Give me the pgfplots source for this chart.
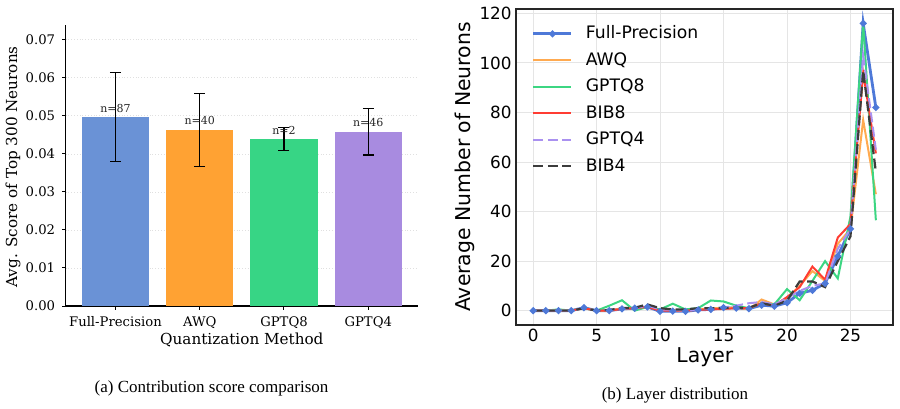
\documentclass[border=0pt]{standalone}
\usepackage{pgfplots}
\pgfplotsset{compat=1.18}
\usepackage{pgfplotstable}
\usepackage{fontspec}
\setmainfont{Liberation Serif}
\newfontfamily\dvserif{DejaVu Serif}
\newfontfamily\dvsans{DejaVu Sans}

\definecolor{barFP}{RGB}{106,146,214}
\definecolor{barAWQ}{RGB}{255,162,51}
\definecolor{barG8}{RGB}{55,213,133}
\definecolor{barG4}{RGB}{168,139,224}

\definecolor{lFP}{RGB}{78,121,216}
\definecolor{lAWQ}{RGB}{255,170,80}
\definecolor{lG8}{RGB}{60,214,130}
\definecolor{lB8}{RGB}{255,60,50}
\definecolor{lG4}{RGB}{170,145,240}
\definecolor{lB4}{RGB}{60,60,60}

\pgfplotstableread{
L FP AWQ GQ8 BIB8 GQ4 BIB4
0 0 0 0 0 0 0
1 0 0 0 0 0 0
2 0 0 0.5 0 0 0
3 0 0 0 0 0 0
4 1.2 1 1 1 1 1
5 0 0 0 0 0 0
6 0 0 2 0 0.3 0.3
7 0.7 1 4.2 0.7 0.8 1
8 1 1 0 1 1 1.2
9 1.5 1.5 1.5 1.5 2 2.5
10 -0.3 0.5 0.5 0 0.5 1
11 -0.2 0 2.8 0 0.3 0.5
12 -0.3 0 0.5 0 0 0.5
13 0.3 0.5 1 0.3 0.5 1
14 0.5 1 4.1 0.5 1 1
15 1.2 1 3.7 0.7 1.3 1
16 1 1.3 2 1 2 1.2
17 0.8 0.5 1 1 3 1.2
18 2.2 4.5 3 3 3.5 3
19 1.8 2.5 2.5 2 2.5 2
20 3.2 5 8.7 5.5 5 4
21 7 10 4.2 9.5 8 11.8
22 8.2 16 12 17.8 10 11.8
23 11 12 20 12.5 11 9.5
24 22 27 13 29.5 25 20
25 33 33 38 35 33 30
26 116 77 116 96 103 97
27 82 47 36.5 63.5 65 56
}\layers

\begin{document}
\begin{tikzpicture}
\useasboundingbox (0pt,0pt) rectangle (450pt,-204pt);

% ---------------- left: bar chart ----------------
\begin{axis}[
  at={(32.85pt,-153pt)}, anchor=south west,
  scale only axis, width=176.15pt, height=140.5pt,
  xmin=-0.59, xmax=3.59, ymin=0, ymax=0.0739,
  axis lines*=left,
  axis line style={-, line width=0.6pt, black},
  tick align=outside, major tick length=1.75pt,
  tick style={black, line width=0.5pt},
  xtick={0,1,2,3},
  xticklabels={Full-Precision, AWQ, GPTQ8, GPTQ4},
  ytick={0,0.01,...,0.07},
  scaled y ticks=false,
  /pgf/number format/assume math mode=true,
  yticklabel style={/pgf/number format/fixed, /pgf/number format/fixed zerofill, /pgf/number format/precision=2},
  tick label style={font=\dvserif\fontsize{6.6}{7}\selectfont},
  ymajorgrids,
  grid style={densely dotted, black!12, line width=0.4pt},
  xlabel={Quantization Method},
  ylabel={Avg. Score of Top 300 Neurons},
  label style={font=\dvserif\fontsize{7.6}{8}\selectfont},
  xlabel style={at={(axis description cs:0.5,-0.121)}, anchor=center},
  ylabel style={at={(axis description cs:-0.1496,0.495)}, anchor=center},
  clip=false,
]
\pgfplotsset{mybar/.style={ybar, bar width=0.8, bar shift=0pt, draw=none,
  error bars/.cd, y dir=both, y explicit,
  error bar style={black, line width=0.7pt},
  error mark options={rotate=90, black, mark size=2.75pt, line width=0.7pt}}}
\addplot[fill=barFP, mybar] coordinates {(0,0.0497) +- (0,0.0117)};
\addplot[fill=barAWQ, mybar] coordinates {(1,0.0463) +- (0,0.0096)};
\addplot[fill=barG8, mybar] coordinates {(2,0.0439) +- (0,0.0030)};
\addplot[fill=barG4, mybar] coordinates {(3,0.0458) +- (0,0.0061)};
\addplot[draw=none, mark=none, nodes near coords, point meta=explicit symbolic,
  nodes near coords style={anchor=base, yshift=2.5pt, inner sep=0pt, text=black!85, font=\dvserif\fontsize{5.5}{6}\selectfont}]
  coordinates {(0,0.0497)[n=87] (1,0.0463)[n=40] (2,0.0439)[n=2] (3,0.0458)[n=46]};
\end{axis}

% ---------------- right: line chart ----------------
\begin{axis}[
  at={(258pt,-162.5pt)}, anchor=south west,
  scale only axis, width=188.5pt, height=158pt,
  xmin=-1.35, xmax=28.35, ymin=-5.8, ymax=121.8,
  axis line style={line width=0.7pt, black!85},
  major tick length=0pt,
  xtick={0,5,...,25}, ytick={0,20,...,120},
  /pgf/number format/assume math mode=true,
  tick label style={font=\dvsans\fontsize{8.4}{9}\selectfont, inner sep=2pt},
  grid=major,
  grid style={black!10, line width=0.5pt},
  xlabel={Layer},
  ylabel={Average Number of Neurons},
  label style={font=\dvsans\fontsize{10.2}{11}\selectfont},
  xlabel style={at={(axis description cs:0.501,-0.101)}, anchor=center},
  ylabel style={at={(axis description cs:-0.135,0.5)}, anchor=center},
  legend style={draw=none, fill=none, at={(axis description cs:0.0416,0.949)}, anchor=north west,
    font=\dvsans\fontsize{8.6}{9}\selectfont, inner xsep=0pt, inner ysep=0pt, row sep=4.95pt,
    nodes={inner sep=0pt, text height=6.5pt, text depth=1.8pt},
    /tikz/every odd column/.append style={column sep=6.5pt}},
  legend cell align=left,
  legend image code/.code={\draw[mark repeat=2, mark phase=2, #1] plot coordinates {(0pt,0pt) (9.5pt,0pt) (19pt,0pt)};},
]
\addplot[lFP, line width=1.4pt, mark=*, mark size=0.9pt, mark options={solid}] table[x=L, y=FP] {\layers};
\addlegendentry{Full-Precision}
\addplot[lAWQ, line width=1pt] table[x=L, y=AWQ] {\layers};
\addlegendentry{AWQ}
\addplot[lG8, line width=1pt] table[x=L, y=GQ8] {\layers};
\addlegendentry{GPTQ8}
\addplot[lB8, line width=1pt] table[x=L, y=BIB8] {\layers};
\addlegendentry{BIB8}
\addplot[lG4, line width=1pt, dash pattern=on 5pt off 2.2pt] table[x=L, y=GQ4] {\layers};
\addlegendentry{GPTQ4}
\addplot[lB4, line width=1.1pt, dash pattern=on 5pt off 2.2pt] table[x=L, y=BIB4] {\layers};
\addlegendentry{BIB4}
\end{axis}

% ---------------- captions ----------------
\node[anchor=base, font=\fontsize{8.5}{9}\selectfont, inner sep=0pt] at (105.75pt,-196pt) {(a) Contribution score comparison};
\node[anchor=base, font=\fontsize{8.5}{9}\selectfont, inner sep=0pt] at (337.5pt,-199.5pt) {(b) Layer distribution};
\end{tikzpicture}
\end{document}
